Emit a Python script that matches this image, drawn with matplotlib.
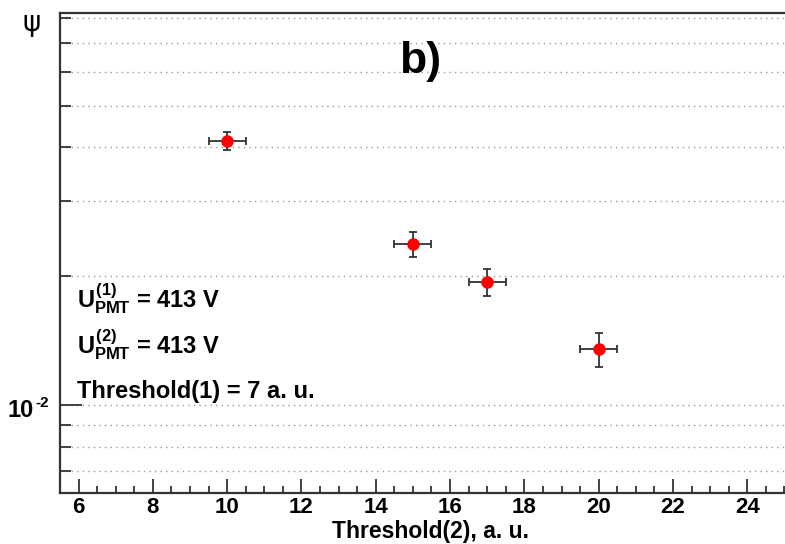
import matplotlib
matplotlib.use('Agg')
import matplotlib.pyplot as plt
from matplotlib.ticker import NullFormatter

# data
threshold2 = [10, 15, 17, 20]
psi = [0.0414, 0.0238, 0.0194, 0.0135]
psi_err = [0.0020, 0.0016, 0.0014, 0.0012]
x_err = [0.5, 0.5, 0.5, 0.5]

x_major = [6, 8, 10, 12, 14, 16, 18, 20, 22, 24]
y_minor = [0.007, 0.008, 0.009, 0.02, 0.03, 0.04, 0.05, 0.06, 0.07, 0.08]

plt.rcParams['font.family'] = ['Liberation Sans', 'DejaVu Sans']
plt.rcParams['font.weight'] = 'bold'
plt.rcParams['mathtext.fontset'] = 'custom'
plt.rcParams['mathtext.rm'] = 'Liberation Sans:bold'
plt.rcParams['mathtext.it'] = 'Liberation Sans:bold'
plt.rcParams['mathtext.bf'] = 'Liberation Sans:bold'

W, H = 785, 544
fig = plt.figure(figsize=(W / 100, H / 100), dpi=100)
ax = fig.add_axes([60 / W, 51 / H, 743 / W, 480 / H])

ax.set_yscale('log')
ax.set_xlim(5.52, 25.5)
ax.set_ylim(0.00623, 0.0824)

ax.errorbar(threshold2, psi, yerr=psi_err, xerr=x_err, fmt='o', color='red',
            markersize=8, ecolor='#333333', elinewidth=1.3, capsize=3,
            capthick=1.3, zorder=3)

# ticks, ROOT style: inside, only 10^-2 labelled
ax.set_xticks(x_major)
ax.set_xticks([v / 2 for v in range(11, 51)], minor=True)
ax.set_yticks([0.01])
ax.set_yticklabels([''])
ax.set_yticks(y_minor, minor=True)
ax.yaxis.set_minor_formatter(NullFormatter())
ax.tick_params(axis='x', which='major', direction='in', length=10, width=1.3,
               labelsize=16, pad=3, color='#333333')
ax.tick_params(axis='x', which='minor', direction='in', length=5, width=1.3,
               color='#333333')
ax.tick_params(axis='y', which='major', direction='in', length=16, width=1.3,
               color='#333333')
ax.tick_params(axis='y', which='minor', direction='in', length=8, width=1.3,
               color='#333333')
ax.tick_params(top=False, right=False, which='both')

ax.grid(True, axis='y', which='both', color='#999999', linestyle=(0, (1, 3)),
        linewidth=1)
ax.set_axisbelow(True)

for s in ['left', 'bottom', 'top']:
    ax.spines[s].set_linewidth(1.6)
    ax.spines[s].set_color('#333333')
ax.spines['right'].set_visible(False)

fig.text(431 / W, 1 - 538 / H, 'Threshold(2), a. u.', fontsize=16.5,
         fontweight='bold', ha='center', va='baseline')

# 10^-2 label with a plain hyphen, as in the reference
fig.text(34 / W, 1 - 417 / H, '10', fontsize=17, fontweight='bold',
         ha='right', va='baseline')
fig.text(35 / W, 1 - 407 / H, '-2', fontsize=11, fontweight='bold',
         ha='left', va='baseline')

fig.text(32 / W, 1 - 23 / H, 'ψ', family=['DejaVu Sans'], fontweight='normal',
         fontsize=20, ha='center', va='center')

fig.text(420 / W, 1 - 62 / H, 'b)', fontsize=32, fontweight='bold',
         ha='center', va='center')

# annotation block, placed in pixel coords
for txt, y in [('$U_{PMT}^{(1)}$ = 413 V', 307),
               ('$U_{PMT}^{(2)}$ = 413 V', 353),
               ('Threshold(1) = 7 a. u.', 398)]:
    fig.text(77 / W, 1 - y / H, txt, fontsize=17, fontweight='bold',
             ha='left', va='baseline')

fig.savefig('out.png', dpi=100)
